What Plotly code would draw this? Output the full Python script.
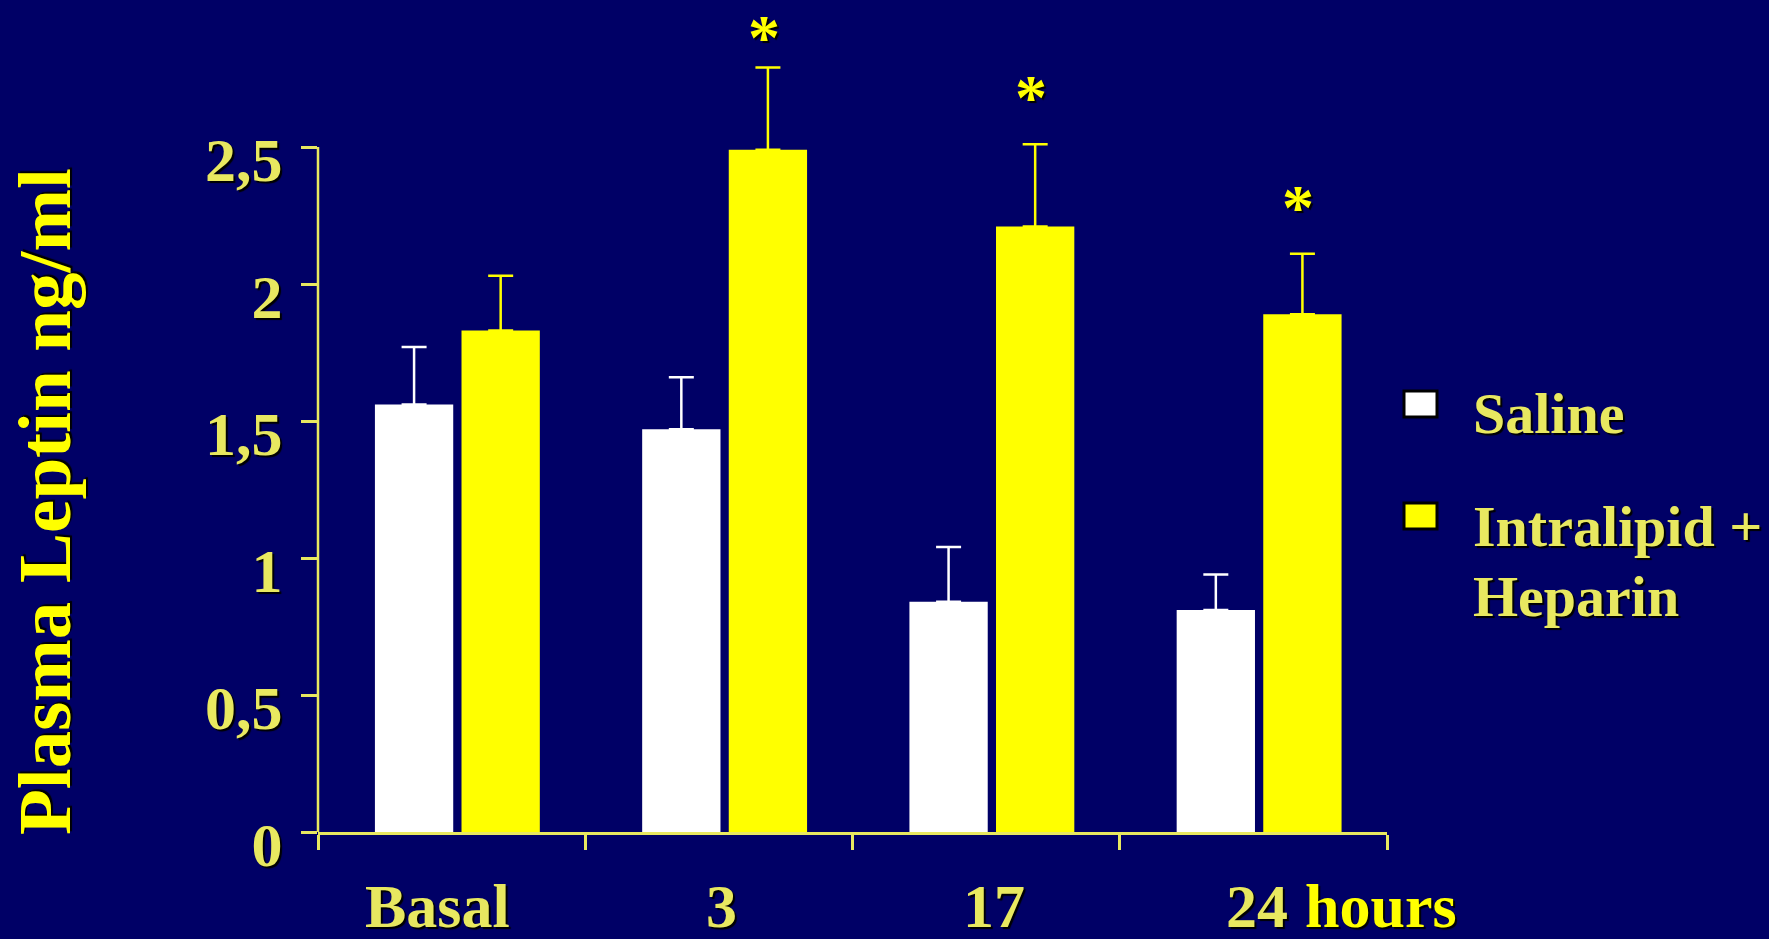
import plotly.graph_objects as go

# Plasma leptin (ng/ml), mean and SEM per time point
categories = ["Basal", "3", "17", "24"]
saline = [1.56, 1.47, 0.84, 0.81]
saline_sem = [0.21, 0.19, 0.20, 0.13]
intralipid = [1.83, 2.49, 2.21, 1.89]
intralipid_sem = [0.20, 0.30, 0.30, 0.22]
significant = [False, True, True, True]
y_ticks = [0, 0.5, 1, 1.5, 2, 2.5]
y_tick_text = ["0", "0,5", "1", "1,5", "2", "2,5"]

BG = "#000066"
MUTED = "#E8E860"
BRIGHT = "#FFFF00"
FONT = "Liberation Serif"
SHADOW = "2px 2px 1px #000000"

W, H = 1769, 939
L, R, T, B = 318, 382, 10, 107
PW, PH = W - L - R, H - T - B


def px(x):
    return (x - L) / PW


def py(y):
    return (H - B - y) / PH


x_pos = list(range(len(categories)))
bar_w = 0.293

fig = go.Figure()
fig.add_trace(go.Bar(
    x=x_pos, y=saline, width=bar_w, offset=-0.287,
    marker=dict(color="#FFFFFF", line=dict(width=0)),
    error_y=dict(type="data", array=saline_sem, arrayminus=[0] * 4, symmetric=False,
                 color="#FFFFFF", thickness=2.5, width=12.5),
    name="Saline", showlegend=False,
))
fig.add_trace(go.Bar(
    x=x_pos, y=intralipid, width=bar_w, offset=0.037,
    marker=dict(color=BRIGHT, line=dict(width=0)),
    error_y=dict(type="data", array=intralipid_sem, arrayminus=[0] * 4, symmetric=False,
                 color=BRIGHT, thickness=2.5, width=12.5),
    name="Intralipid + Heparin", showlegend=False,
))

annotations = []

# significance stars above the Intralipid + Heparin bars
for i, flag in enumerate(significant):
    if not flag:
        continue
    annotations.append(dict(
        x=i + 0.037 + bar_w / 2, y=min(intralipid[i] + intralipid_sem[i] + 0.2, 2.93),
        xref="x", yref="y", text="*", showarrow=False, xshift=-4, yshift=-8,
        xanchor="center", yanchor="middle", borderpad=0,
        font=dict(family=FONT, size=64, color=BRIGHT, weight="bold", shadow=SHADOW),
    ))

# category labels under the axis
label_shift = [-14, 3, 8, 4]
label_y = py(906)
for i, lab in enumerate(categories):
    annotations.append(dict(
        x=i, y=label_y, xref="x", yref="paper", text=lab, showarrow=False,
        xshift=label_shift[i], xanchor="center", yanchor="middle",
        font=dict(family=FONT, size=62, color=MUTED, weight="bold", shadow=SHADOW),
    ))
annotations.append(dict(
    x=px(1303), y=label_y, xref="paper", yref="paper", text="hours", showarrow=False,
    xanchor="left", yanchor="middle",
    font=dict(family=FONT, size=62, color=BRIGHT, weight="bold", shadow=SHADOW),
))

# y-axis title
annotations.append(dict(
    x=px(45), y=py(502), xref="paper", yref="paper", text="Plasma Leptin ng/ml",
    textangle=-90, showarrow=False, xanchor="center", yanchor="middle",
    font=dict(family=FONT, size=75, color=BRIGHT, weight="bold", shadow=SHADOW),
))

# legend
legend_items = [("Saline", "#FFFFFF", 390, ["Saline"], [414]),
                ("Intralipid + Heparin", BRIGHT, 502, ["Intralipid +", "Heparin"], [526, 596])]
shapes = []
for name, color, top, lines, centers in legend_items:
    shapes.append(dict(type="rect", xref="paper", yref="paper",
                       x0=px(1404), x1=px(1437), y0=py(top + 1), y1=py(top + 27),
                       fillcolor=color, line=dict(color="#000000", width=3)))
    for text, cy in zip(lines, centers):
        annotations.append(dict(
            x=px(1471), y=py(cy), xref="paper", yref="paper", text=text,
            showarrow=False, xanchor="left", yanchor="middle",
            font=dict(family=FONT, size=58, color=MUTED, weight="bold", shadow=SHADOW),
        ))

# y-axis line stops at the top tick
shapes.append(dict(type="line", xref="paper", yref="y", x0=0, x1=0, y0=0, y1=2.5,
                   line=dict(color=MUTED, width=2.5)))

fig.update_layout(
    width=W, height=H,
    margin=dict(l=L, r=R, t=T, b=B, autoexpand=False),
    paper_bgcolor=BG, plot_bgcolor=BG,
    barmode="overlay",
    showlegend=False,
    annotations=annotations,
    shapes=shapes,
    xaxis=dict(range=[-0.5, 3.5], showgrid=False, zeroline=False,
               showline=True, linecolor=MUTED, linewidth=2.5,
               tickvals=[-0.5, 0.5, 1.5, 2.5, 3.5], ticks="outside", ticklen=15,
               tickwidth=2.5, tickcolor=MUTED, showticklabels=False),
    yaxis=dict(range=[0, 3.0], showgrid=False, zeroline=False, showline=False,
               tickvals=y_ticks, ticktext=y_tick_text, ticks="outside", ticklen=16,
               tickwidth=2.5, tickcolor=MUTED, ticklabelstandoff=6, ticklabelshift=12,
               tickfont=dict(family=FONT, size=62, color=MUTED, weight="bold", shadow=SHADOW)),
)

fig.write_html("out.html")
